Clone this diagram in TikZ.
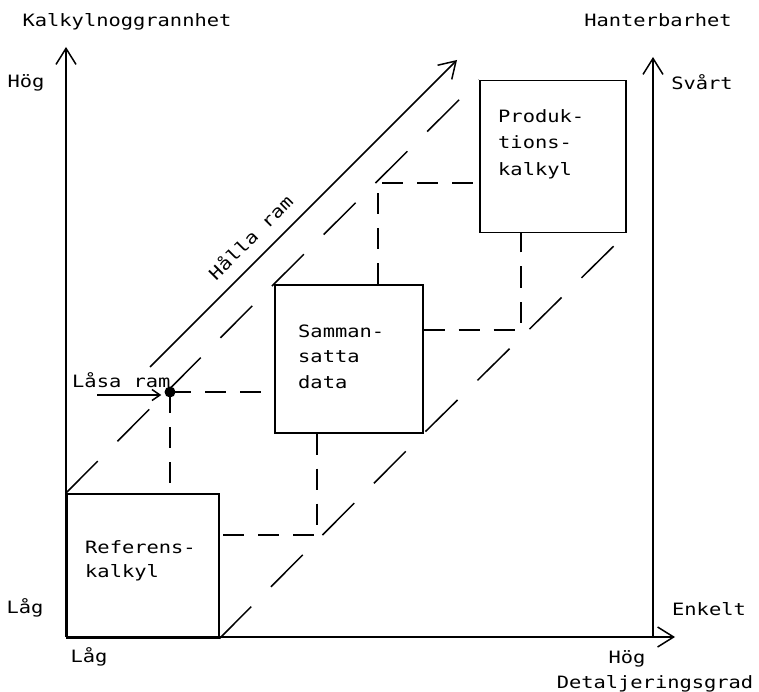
\documentclass[tikz,border=0pt]{standalone}
\usepackage{fontspec}
\newfontfamily\tw[FakeStretch=1.2]{DejaVu Sans Mono}
\usetikzlibrary{arrows.meta,calc}
\begin{document}
\begin{tikzpicture}[x=1pt,y=-1pt,
  lbl/.style={font=\tw\fontsize{17}{20}\selectfont, inner sep=0pt},
  box/.style={draw, line width=1.5pt, anchor=north west, inner sep=0pt},
  ax/.style={line width=1.5pt, -{Straight Barb[length=16pt,width=20pt,line width=1.5pt]}},
  smallarr/.style={line width=1.5pt, -{Straight Barb[length=8pt,width=11pt,line width=1.5pt]}},
  dsh/.style={line width=1.5pt, dash pattern=on 21pt off 14pt},
  ddiag/.style={line width=1.5pt, dash pattern=on 45pt off 28pt},
]
\useasboundingbox (0,0) rectangle (759,692);
% axes
\coordinate (O) at (66,637);
\coordinate (ytop) at (66,47);
\coordinate (xend) at (675,637);
\coordinate (rbot) at (653,637);
\coordinate (rtop) at (653,57);
\draw[ax] (O) -- (ytop);
\draw[ax] (O) -- (xend);
\draw[ax] (rbot) -- (rtop);
% boxes
\node[box, minimum width=152pt, minimum height=144pt] (ref) at (66,493) {};
\node[box, minimum width=148pt, minimum height=148pt] (samman) at (274,284) {};
\node[box, minimum width=146pt, minimum height=152pt] (prod) at (479,80) {};
% box texts
\node[lbl, anchor=base west] (p1) at (498,123) {Produk-};
\node[lbl, anchor=base west] (p2) at (498,149) {tions-};
\node[lbl, anchor=base west] (p3) at (498,176) {kalkyl};
\node[lbl, anchor=base west] (s1) at (298,337) {Samman-};
\node[lbl, anchor=base west] (s2) at (298,362) {satta};
\node[lbl, anchor=base west] (s3) at (298,388) {data};
\node[lbl, anchor=base west] (r1) at (85,553) {Referens-};
\node[lbl, anchor=base west] (r2) at (85,577) {kalkyl};
% dot and Låsa ram
\node[circle, fill, inner sep=0pt, minimum size=11pt] (dot) at (170,392) {};
\node[lbl, anchor=base west] (lasa) at (72,387) {Låsa ram};
\coordinate (lasaS) at (97,395);
\draw[smallarr, shorten >=3pt] (lasaS) -- (lasaS -| dot.west);
% Hålla ram
\coordinate (hs) at (150,367);
\coordinate (he) at (457,60);
\draw[ax] (hs) -- (he);
\node[lbl, rotate=45] (halla) at (250,237) {Hålla ram};
% dashed diagonals
\draw[ddiag] (ref.north west) -- (samman.north west) -- (prod.north west);
\draw[ddiag] (ref.south east) -- (samman.south east) -- (prod.south east);
% dashed orthogonal connectors
\draw[dsh] (dot.center) -- (dot -| samman.west);
\draw[dsh] (dot.center) -- (dot |- ref.north);
\coordinate (k1) at (378,183);
\draw[dsh] (samman.north -| k1) -- (k1) -- (k1 -| prod.west);
\coordinate (k2) at (521,330);
\draw[dsh] (k2 -| samman.east) -- (k2) -- (k2 |- prod.south);
\coordinate (k3) at (317,535);
\draw[dsh] (samman.south -| k3) -- (k3) -- (k3 -| ref.east);
% axis labels
\node[lbl, anchor=base] (yl) at (127,27) {Kalkylnoggrannhet};
\node[lbl, anchor=base] (rl) at (658,27) {Hanterbarhet};
\node[lbl, anchor=base] (yh) at (26,88) {Hög};
\node[lbl, anchor=base] (rh) at (702,90) {Svårt};
\node[lbl, anchor=base] (ylo) at (25,613) {Låg};
\node[lbl, anchor=base] (rlo) at (709,615) {Enkelt};
\node[lbl, anchor=base] (xlo) at (89,662) {Låg};
\node[lbl, anchor=base] (xhi) at (627,663) {Hög};
\node[lbl, anchor=base] (xl) at (655,688) {Detaljeringsgrad};
\end{tikzpicture}
\end{document}
